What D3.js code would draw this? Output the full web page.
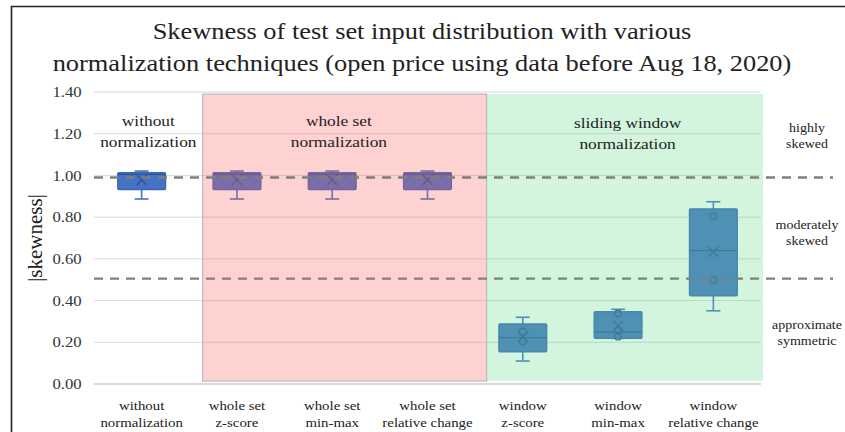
<!DOCTYPE html>
<html>
<head>
<meta charset="utf-8">
<script src="https://d3js.org/d3.v7.min.js"></script>
<style>
  body { margin: 0; background: #fff; }
</style>
</head>
<body>
<div id="chart"></div>
<script>
// categories (two-line labels)
const categories = ["without normalization", "whole set z-score", "whole set min-max",
  "whole set relative change", "window z-score", "window min-max", "window relative change"];
const catLines = [["without", "normalization"], ["whole set", "z-score"], ["whole set", "min-max"],
  ["whole set", "relative change"], ["window", "z-score"], ["window", "min-max"], ["window", "relative change"]];

// box statistics
const minVals    = [0.887, 0.887, 0.887, 0.887, 0.110, 0.219, 0.351];
const q1Vals     = [0.933, 0.933, 0.933, 0.933, 0.155, 0.219, 0.423];
const medianVals = [1.005, 1.005, 1.005, 1.005, 0.222, 0.249, 0.639];
const q3Vals     = [1.013, 1.013, 1.013, 1.013, 0.288, 0.347, 0.839];
const maxVals    = [1.021, 1.021, 1.021, 1.021, 0.320, 0.358, 0.874];
const meanVals   = [0.978, 0.978, 0.978, 0.978, 0.227, 0.278, 0.634];
const innerPts   = [[], [], [], [], [0.251, 0.203], [0.339, 0.254, 0.227], [0.805, 0.499]];

const yTicks = [0, 0.2, 0.4, 0.6, 0.8, 1.0, 1.2, 1.4];
const thresholds = [0.99, 0.505];
const zoneLabels = [["highly", "skewed", 1.19], ["moderately", "skewed", 0.725], ["approximate", "symmetric", 0.245]];

const width = 845, height = 432;
const margin = {top: 92, right: 84, bottom: 48, left: 94};
const serif = "'Liberation Serif', 'Times New Roman', serif";

const svg = d3.select("#chart").append("svg")
  .attr("width", width).attr("height", height)
  .style("font-family", serif);

// frame
svg.append("path").attr("d", "M11.5,432 L11.5,6.5 L845,6.5")
  .attr("fill", "none").attr("stroke", "#222").attr("stroke-width", 1.6);

const x = d3.scaleBand().domain(categories)
  .range([margin.left, width - margin.right]).padding(0);
const y = d3.scaleLinear().domain([0, 1.4]).range([height - margin.bottom, margin.top]);
const bw = x.bandwidth();
const xi = i => margin.left + i * bw;   // band index -> px

// text helper: the original text is a bit wider than the font, so stretch it
function label(px, py, lines, size, lineH, sx) {
  const t = svg.append("text")
    .attr("transform", `translate(${px},${py}) scale(${sx},1)`)
    .attr("text-anchor", "middle")
    .style("font-family", serif).style("font-size", size + "px").attr("fill", "#222");
  lines.forEach((l, k) => t.append("tspan").attr("x", 0).attr("y", k * lineH).text(l));
  return t;
}

// title
label(422, 39, ["Skewness of test set input distribution with various",
  "normalization techniques (open price using data before Aug 18, 2020)"], 24, 32, 1.1);

// gridlines
svg.append("g").selectAll("line").data(yTicks).join("line")
  .attr("x1", margin.left).attr("x2", width - margin.right)
  .attr("y1", d => y(d)).attr("y2", d => y(d))
  .attr("stroke", "#d9d9d9").attr("stroke-width", d => d === 0 ? 2 : 1);

// y axis labels
const yAxis = svg.append("g").attr("transform", `translate(${margin.left - 9},0)`)
  .call(d3.axisLeft(y).tickValues(yTicks).tickFormat(d3.format(".2f")).tickSize(0));
yAxis.attr("font-family", null);
yAxis.select(".domain").remove();
yAxis.selectAll("text").style("font-size", "14.5px")
  .style("font-family", serif).attr("fill", "#333")
  .attr("transform", "scale(1.15,1)");

svg.append("text").attr("transform", `translate(42,${y(0.7)}) rotate(-90)`)
  .attr("text-anchor", "middle").style("font-family", serif)
  .style("font-size", "21px").attr("fill", "#222").text("|skewness|");

// x labels
catLines.forEach((d, i) => label(x(categories[i]) + bw / 2, 410, d, 13.5, 17, 1.1));

// boxes
const boxW = bw * 0.5, capW = 14;
const col = "#4472c4", dark = "#2f5597";
const g = svg.append("g");
categories.forEach((c, i) => {
  const cx = x(c) + bw / 2;
  const b = g.append("g");
  b.append("line").attr("x1", cx).attr("x2", cx).attr("y1", y(maxVals[i])).attr("y2", y(q3Vals[i]))
    .attr("stroke", col).attr("stroke-width", 1.6);
  b.append("line").attr("x1", cx).attr("x2", cx).attr("y1", y(q1Vals[i])).attr("y2", y(minVals[i]))
    .attr("stroke", col).attr("stroke-width", 1.6);
  [maxVals[i], minVals[i]].forEach(v => b.append("line")
    .attr("x1", cx - capW / 2).attr("x2", cx + capW / 2).attr("y1", y(v)).attr("y2", y(v))
    .attr("stroke", col).attr("stroke-width", 1.6));
  b.append("rect").attr("x", cx - boxW / 2).attr("y", y(q3Vals[i]))
    .attr("width", boxW).attr("height", y(q1Vals[i]) - y(q3Vals[i]))
    .attr("fill", col).attr("stroke", "#3a66b8").attr("stroke-width", 1.5).attr("rx", 1);
  b.append("line").attr("x1", cx - boxW / 2).attr("x2", cx + boxW / 2)
    .attr("y1", y(medianVals[i])).attr("y2", y(medianVals[i]))
    .attr("stroke", dark).attr("stroke-width", 1.2);
  const my = y(meanVals[i]), s = 5;
  b.append("path").attr("d", `M${cx - s},${my - s}L${cx + s},${my + s}M${cx - s},${my + s}L${cx + s},${my - s}`)
    .attr("stroke", dark).attr("stroke-width", 1.4).attr("fill", "none");
  innerPts[i].forEach(v => b.append("circle").attr("cx", cx).attr("cy", y(v)).attr("r", 3.3)
    .attr("fill", "none").attr("stroke", dark).attr("stroke-width", 1.3));
});

// shaded regions (semi-transparent, drawn over the boxes)
svg.append("rect").attr("x", xi(1.14)).attr("y", y(1.39))
  .attr("width", xi(4.12) - xi(1.14)).attr("height", y(0.014) - y(1.39))
  .attr("fill", "rgb(255,100,100)").attr("fill-opacity", 0.29)
  .attr("stroke", "#c4b4cc").attr("stroke-width", 1.2);
svg.append("rect").attr("x", xi(4.12)).attr("y", y(1.39))
  .attr("width", xi(7.02) - xi(4.12)).attr("height", y(0.016) - y(1.39))
  .attr("fill", "rgb(105,220,140)").attr("fill-opacity", 0.29);

// region labels
label(xi(0.57), 126, ["without", "normalization"], 15.5, 21, 1.12);
label(xi(2.57), 126, ["whole set", "normalization"], 15.5, 21, 1.12);
label(xi(5.6), 128, ["sliding window", "normalization"], 15.5, 21, 1.12);

// threshold dashed lines
svg.append("g").selectAll("line").data(thresholds).join("line")
  .attr("x1", margin.left).attr("x2", 833)
  .attr("y1", d => y(d)).attr("y2", d => y(d))
  .attr("stroke", "#7f7f7f").attr("stroke-width", 2.4).attr("stroke-dasharray", "9,7");

// zone labels at right
zoneLabels.forEach(z => label(807, y(z[2]) - 4, [z[0], z[1]], 12.5, 16, 1.12));
</script>
</body>
</html>
